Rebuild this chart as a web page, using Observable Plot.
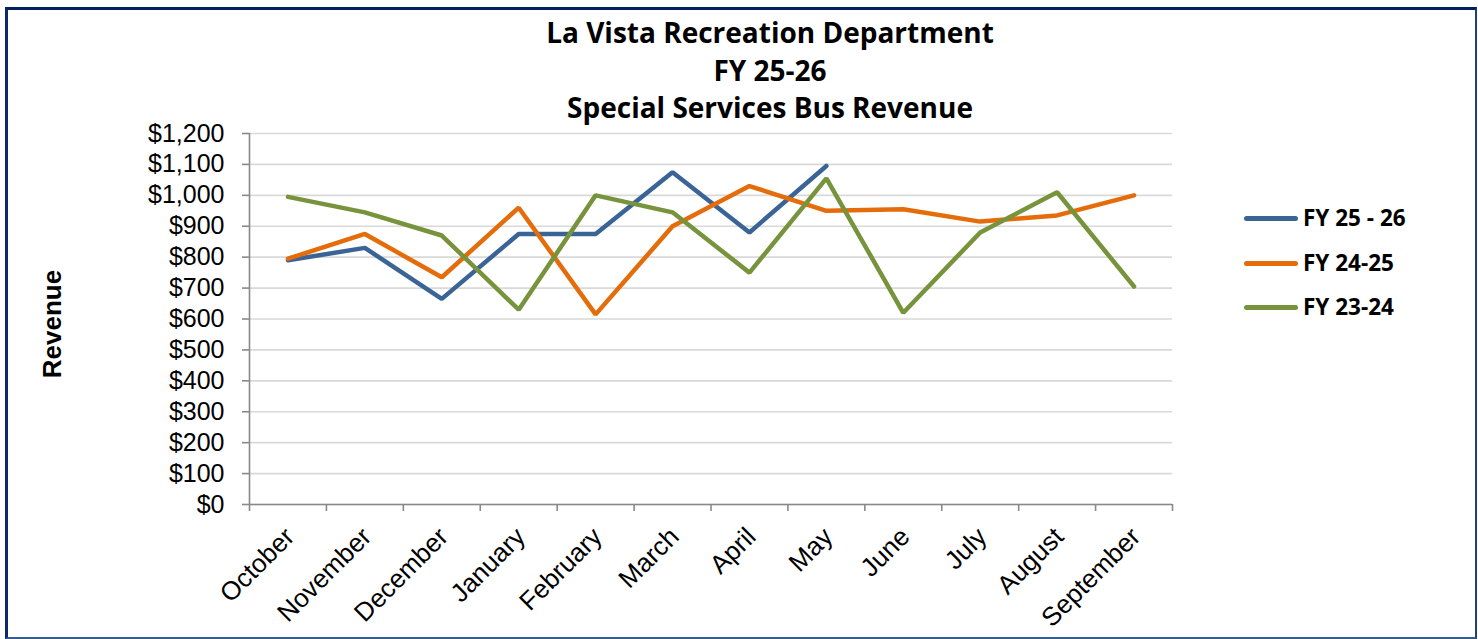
<!DOCTYPE html>
<html>
<head>
<meta charset="utf-8">
<script src="https://cdn.jsdelivr.net/npm/d3@7"></script>
<script src="https://cdn.jsdelivr.net/npm/@observablehq/plot@0.6"></script>
<style>
  body { margin: 0; background: #fff; }
  #wrap { position: relative; width: 1478px; height: 639px; overflow: hidden; background: #fff; }
  #frame { position: absolute; left: 5px; top: 7px; width: 1472px; height: 632px; box-sizing: border-box;
    border-top: 3px solid #002060; border-left: 3px solid #0b2a66; border-right: 2px solid #1f3f77; border-bottom: 2px solid #3a5b8e; }
  #title { position: absolute; left: 270px; width: 1000px; top: 14px; text-align: center;
    font-family: "Open Sans", "Noto Sans", sans-serif; font-weight: 700; font-size: 28px; line-height: 37.5px; color: #000; }
  #ylabel { position: absolute; left: 52px; top: 324px; transform: translate(-50%, -50%) rotate(-90deg);
    font-family: "Liberation Sans", Arial, sans-serif; font-weight: 700; font-size: 26px; color: #000; white-space: nowrap; }
  .leg { position: absolute; left: 1244px; height: 0; }
  .leg .sw { position: absolute; left: 0; width: 54px; height: 5px; top: -2.5px; border-radius: 2.5px; }
  .leg .lb { position: absolute; left: 59px; top: -15px; line-height: 30px; white-space: nowrap;
    font-family: "Open Sans", "Noto Sans", sans-serif; font-weight: 700; font-size: 22.5px; color: #000; }
  #chart { position: absolute; left: 0; top: 0; }
</style>
</head>
<body>
<div id="wrap">
  <div id="chart"></div>
  <div id="title"></div>
  <div id="ylabel"></div>
  <div id="legend"></div>
  <div id="frame"></div>
</div>
<script>
const titleLines = ["La Vista Recreation Department", "FY 25-26", "Special Services Bus Revenue"];
const yAxisLabel = "Revenue";
const months = ["October", "November", "December", "January", "February", "March", "April", "May", "June", "July", "August", "September"];
const seriesNames = ["FY 25 - 26", "FY 24-25", "FY 23-24"];
const seriesColors = ["#3a6496", "#e46c0a", "#77933c"];
const fy2526 = [790, 830, 665, 875, 875, 1075, 880, 1095];
const fy2425 = [795, 875, 735, 960, 615, 900, 1030, 950, 955, 915, 935, 1000];
const fy2324 = [995, 945, 870, 630, 1000, 945, 750, 1055, 620, 880, 1010, 705];
const yTicks = [0, 100, 200, 300, 400, 500, 600, 700, 800, 900, 1000, 1100, 1200];

const seriesValues = [fy2526, fy2425, fy2324];
const data = [];
seriesNames.forEach((s, si) => seriesValues[si].forEach((v, i) => data.push({series: s, idx: i, month: months[i], value: v})));
const boundaries = months.map((m, i) => i - 0.5).concat([months.length - 0.5]);

document.getElementById("title").innerHTML = titleLines.map(t => `<div>${t}</div>`).join("");
document.getElementById("ylabel").textContent = yAxisLabel;
const legendTops = [218, 263, 307];
document.getElementById("legend").innerHTML = seriesNames.map((s, i) =>
  `<div class="leg" style="top:${legendTops[i]}px"><div class="sw" style="background:${seriesColors[i]}"></div><div class="lb">${s}</div></div>`).join("");

const fmt = d3.format(",");
const chart = Plot.plot({
  width: 1478, height: 639,
  marginLeft: 249, marginRight: 306, marginTop: 133, marginBottom: 135,
  style: {background: "transparent", fontFamily: "'Liberation Sans', Arial, sans-serif", color: "#000"},
  x: {type: "linear", domain: [-0.5, months.length - 0.5], axis: null},
  y: {domain: [0, 1200], axis: null},
  color: {domain: seriesNames, range: seriesColors},
  marks: [
    Plot.gridY(yTicks, {stroke: "#d9d9d9", strokeOpacity: 1, strokeWidth: 1.6}),
    Plot.ruleX([-0.5], {stroke: "#898989", strokeWidth: 1.6}),
    Plot.ruleY([0], {stroke: "#898989", strokeWidth: 1.6}),
    Plot.axisY(yTicks, {tickSize: 7, tickPadding: 18, tickFormat: d => "$" + fmt(d), fontSize: 25,
      stroke: "#898989", strokeWidth: 1.6, fill: "#000", label: null}),
    Plot.axisX(boundaries, {tickSize: 7, tickFormat: () => "", stroke: "#898989", strokeWidth: 1.6, label: null}),
    Plot.text(months, {x: (d, i) => i, text: d => d, frameAnchor: "bottom", rotate: -45, textAnchor: "end",
      lineAnchor: "middle", dx: 2, dy: 28, fontSize: 26, fill: "#000"}),
    Plot.line(data, {x: "idx", y: "value", z: "series", stroke: "series", strokeWidth: 4.5,
      strokeLinecap: "round", strokeLinejoin: "miter"})
  ]
});
document.getElementById("chart").appendChild(chart);
</script>
</body>
</html>
